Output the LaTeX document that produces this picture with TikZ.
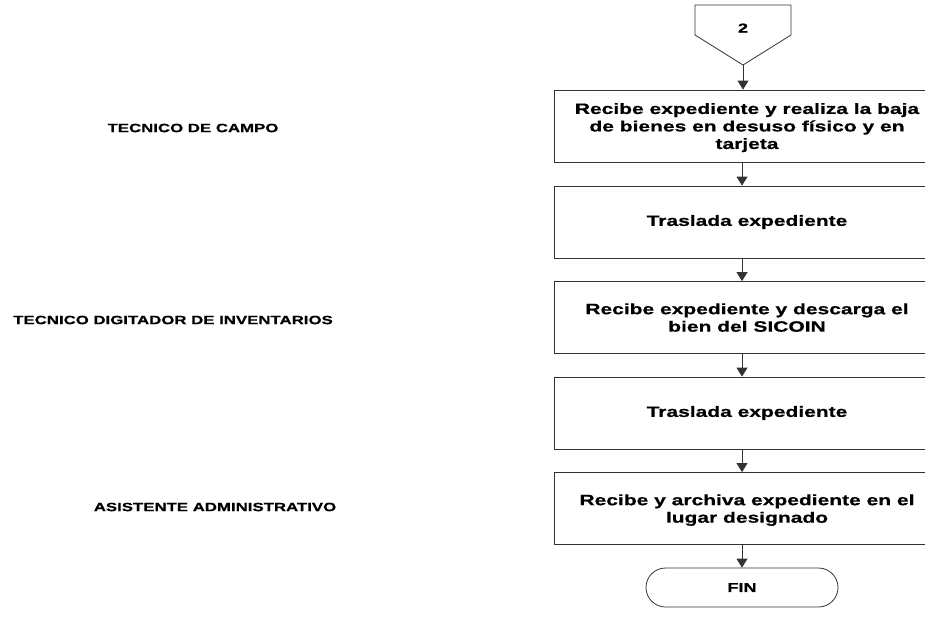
\documentclass[tikz,border=0pt]{standalone}
\usepackage{fontspec}
\setmainfont{Liberation Sans}[FakeStretch=1.4,BoldFeatures={FakeBold=0.6}]
\usetikzlibrary{arrows.meta,shapes.misc}
\begin{document}
\begin{tikzpicture}[x=1pt,y=-1pt,
  line/.style={draw=black!80,line width=0.8pt},
  arr/.style={line,-{Triangle[width=11pt,length=9pt]}},
  stepbox/.style={line,rectangle,minimum width=386pt,minimum height=72pt,inner sep=0pt,
     align=center,font=\fontsize{15}{17.5}\selectfont\bfseries},
  lane/.style={font=\fontsize{12}{14}\selectfont\bfseries,inner sep=0pt},
  term/.style={line,rounded rectangle,minimum width=192pt,minimum height=39pt,inner sep=0pt,
     font=\fontsize{13}{14}\selectfont\bfseries}]
\useasboundingbox (0,0) rectangle (925,618);
\clip (0,0) rectangle (925,618);
\coordinate (ax) at (742,0);
% off-page connector
\draw[line] (695,5) -- (791,5) -- (791,35) -- (743,65) -- (695,35) -- cycle;
\node[font=\fontsize{13}{14}\selectfont\bfseries] (c2) at (743,28) {2};
\coordinate (cp) at (743,65);
\node[stepbox,text depth=0pt] (b1) at (747,126) {Recibe expediente y realiza la baja\\de bienes en desuso físico y en\\tarjeta};
\node[stepbox] (b2) at (747,222) {Traslada expediente};
\node[stepbox,text depth=0pt] (b3) at (747,317.5) {Recibe expediente y descarga el\\bien del SICOIN};
\node[stepbox] (b4) at (747,413) {Traslada expediente};
\node[stepbox,text depth=0pt] (b5) at (747,508.5) {Recibe y archiva expediente en el\\lugar designado};
\node[term] (fin) at (742,587.5) {FIN};
\node[lane] (l1) at (193,128) {TECNICO DE CAMPO};
\node[lane] (l2) at (173,320) {TECNICO DIGITADOR DE INVENTARIOS};
\node[lane] (l3) at (215,507) {ASISTENTE ADMINISTRATIVO};
\draw[arr] (cp) -- (b1.north -| cp);
\draw[arr] (b1.south -| ax) -- (b2.north -| ax);
\draw[arr] (b2.south -| ax) -- (b3.north -| ax);
\draw[arr] (b3.south -| ax) -- (b4.north -| ax);
\draw[arr] (b4.south -| ax) -- (b5.north -| ax);
\draw[arr] (b5.south -| ax) -- (fin.north);
\end{tikzpicture}
\end{document}
